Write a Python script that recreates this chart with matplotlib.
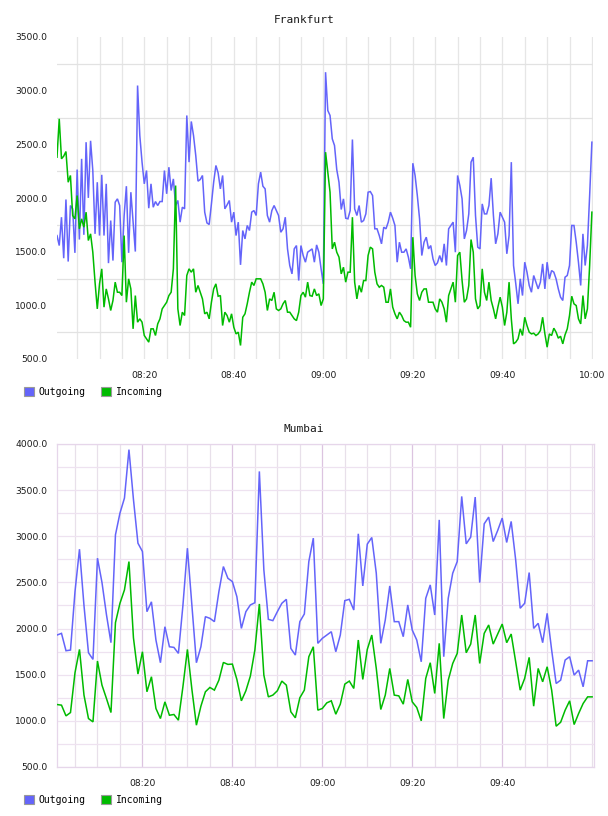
import numpy as np
import pandas as pd
import matplotlib
matplotlib.use("Agg")
import matplotlib.pyplot as plt
import matplotlib.dates as mdates
from matplotlib.patches import Patch

# ---------------- data ----------------
fra_start = "2020-01-01 08:00:30"   # 30 s samples
fra_outgoing = [
    1650,1557,1821,1439,1986,1408,1930,1899,1489,2265,1613,2365,1657,2520,2001,2533,2256,1666,2147,1650,
    2216,1650,2132,1393,1790,1417,1961,1992,1930,1402,1837,2110,1489,2054,1775,1501,3048,2582,2334,2132,
    2256,1905,2132,1914,1967,1930,1967,1967,2256,2039,2287,2070,2178,1930,1977,1775,1914,1899,2769,2334,
    2713,2582,2396,2157,2172,2210,1868,1768,1753,1945,2147,2303,2234,2085,2210,1899,1936,1977,1775,1868,
    1650,1775,1377,1697,1619,1744,1697,1868,1883,1837,2132,2241,2110,2085,1837,1775,1883,1930,1883,1837,
    1681,1713,1821,1526,1371,1293,1526,1557,1231,1557,1464,1402,1495,1511,1526,1402,1563,1495,1340,1200,
    3172,2815,2769,2551,2489,2265,2147,1893,1992,1812,1806,1883,2545,1899,1837,1930,1775,1790,1852,2054,
    2060,2023,1713,1713,1650,1573,1728,1713,1775,1868,1812,1744,1402,1588,1495,1495,1526,1449,1340,2324,
    2210,2023,1806,1464,1588,1635,1526,1557,1433,1371,1396,1464,1402,1573,1371,1713,1744,1775,1495,2210,
    2116,1992,1619,1697,1852,2334,2380,1837,1542,1526,1945,1852,1852,1930,2185,1837,1573,1666,1868,1821,
    1775,1480,1650,2334,1371,1200,1014,1247,1091,1402,1309,1185,1122,1278,1216,1153,1216,1386,1153,1402,
    1247,1324,1309,1247,1153,1076,1045,1262,1278,1371,1744,1744,1588,1402,1185,1666,1371,1557,2023,2520,
]
fra_incoming = [
    2380,2738,2365,2390,2433,2147,2210,1837,1806,2023,1713,1806,1728,1868,1604,1666,1495,1216,967,1200,
    1340,983,1153,1060,952,1045,1216,1122,1122,1091,1650,1029,1247,1153,781,1091,843,874,843,719,
    688,657,781,781,719,827,874,967,998,1029,1091,1122,1340,2116,967,812,936,905,1278,1340,
    1309,1340,1122,1185,1122,1060,921,936,874,1029,1153,1200,1085,1091,812,936,905,843,921,796,
    734,750,626,889,921,1014,1122,1216,1185,1247,1247,1247,1200,1122,952,1060,1045,1122,967,952,
    967,1014,1045,936,936,905,874,858,936,1091,1122,1076,1216,1091,1085,1153,1091,1107,998,1060,
    2427,2241,2054,1526,1588,1495,1449,1293,1355,1216,1309,1309,1821,1216,1060,1185,1122,1231,1231,1464,
    1542,1526,1309,1200,1169,1185,1169,1029,1029,1153,983,921,874,936,905,858,843,843,796,1635,
    1278,1107,1045,1122,1153,1153,1029,1029,1029,967,936,1060,1029,967,843,1091,1153,1216,1029,1464,
    1495,1231,1029,1060,1185,1613,1495,1060,967,998,1340,1122,1045,1216,1045,967,874,983,1076,983,
    812,936,1216,874,641,657,688,781,719,889,812,750,734,740,719,734,765,889,734,610,
    734,719,787,750,694,712,641,725,781,905,1085,1014,998,874,827,1091,874,967,1371,1868,
]

mum_start = "2020-01-01 08:01:00"   # 1 min samples
mum_outgoing = [
    1930,1948,1760,1767,2400,2860,2250,1738,1666,2763,2500,2150,1847,3016,3251,3414,3939,3400,2925,2835,
    2183,2290,1876,1630,2020,1803,1796,1731,2250,2871,2250,1630,1803,2129,2111,2075,2400,2672,2545,2509,
    2346,2002,2183,2256,2280,3703,2636,2100,2086,2183,2274,2317,1785,1713,2075,2158,2726,2980,1840,1894,
    1930,1966,1749,1930,2303,2317,2201,3027,2462,2915,2987,2600,1840,2093,2462,2075,2075,1912,2256,1984,
    1876,1640,2328,2473,2147,3178,1695,2328,2600,2726,3432,2918,2991,3425,2498,3135,3208,2943,3063,3197,
    2933,3161,2744,2220,2274,2607,2002,2057,1847,2165,1767,1405,1441,1659,1695,1496,1550,1369,1651,1651,
]
mum_incoming = [
    1177,1170,1054,1090,1521,1774,1279,1025,989,1648,1387,1242,1090,2064,2274,2419,2726,1900,1507,1749,
    1315,1478,1134,1025,1206,1061,1069,1007,1369,1774,1340,953,1159,1315,1362,1333,1441,1633,1612,1615,
    1449,1217,1326,1485,1767,2267,1496,1260,1279,1326,1431,1387,1098,1033,1250,1333,1695,1803,1116,1134,
    1195,1217,1072,1181,1398,1431,1351,1876,1449,1774,1930,1568,1123,1279,1568,1279,1271,1181,1449,1206,
    1145,1000,1460,1630,1297,1840,1025,1441,1622,1731,2147,1738,1832,2147,1622,1948,2039,1832,1941,2049,
    1847,1941,1640,1333,1460,1688,1159,1568,1423,1586,1333,942,985,1116,1217,960,1080,1188,1260,1260,
]

series_names = ["Outgoing", "Incoming"]
titles = ["Frankfurt", "Mumbai"]
fra_yticks = [500, 1000, 1500, 2000, 2500, 3000, 3500]
mum_yticks = [500, 1000, 1500, 2000, 2500, 3000, 3500, 4000]

# ---------------- style ----------------
BLUE = "#6464fa"
GREEN = "#00bb00"
MONO = "DejaVu Sans Mono"
SANS = "DejaVu Sans"
TXT = "#1a1a1a"

fra_t = pd.date_range(fra_start, periods=len(fra_outgoing), freq="30s")
mum_t = pd.date_range(mum_start, periods=len(mum_outgoing), freq="60s")

fig = plt.figure(figsize=(6.08, 8.16), dpi=100)
W, H = 608.0, 816.0

def fx(px):
    return px / W

def fy(py):
    return 1 - py / H

ax1 = fig.add_axes([fx(57), fy(359), fx(593) - fx(57), fy(37) - fy(359)])
ax2 = fig.add_axes([fx(57), fy(767), fx(594) - fx(57), fy(444) - fy(767)])

for ax, t, out, inc in [(ax1, fra_t, fra_outgoing, fra_incoming),
                        (ax2, mum_t, mum_outgoing, mum_incoming)]:
    ax.plot(t, out, color=BLUE, lw=1.1, zorder=3, solid_joinstyle="miter")
    ax.plot(t, inc, color=GREEN, lw=1.1, zorder=3, solid_joinstyle="miter")
    ax.set_axisbelow(True)
    ax.xaxis.set_major_formatter(mdates.DateFormatter("%H:%M"))
    ax.tick_params(axis="both", which="both", length=0, colors=TXT, labelsize=6.6)
    ax.tick_params(axis="y", pad=7)
    ax.tick_params(axis="x", pad=9)
    for lab in ax.get_xticklabels() + ax.get_yticklabels():
        lab.set_family(SANS)

# ---- top chart (Frankfurt) ----
ax1.set_ylim(500, 3500)
ax1.set_xlim(pd.Timestamp(fra_start), pd.Timestamp("2020-01-01 10:00:15"))
ax1.set_yticks(fra_yticks)
ax1.set_yticklabels([f"{v:.1f}" for v in fra_yticks])
ax1.set_yticks([750, 1250, 1750, 2250, 2750, 3250], minor=True)
ax1.xaxis.set_major_locator(mdates.MinuteLocator(byminute=[0, 20, 40]))
ax1.xaxis.set_minor_locator(mdates.MinuteLocator(byminute=range(0, 60, 5)))
ax1.grid(False)
ax1.yaxis.grid(True, which="minor", color="#e2e2e2", lw=0.9)
ax1.xaxis.grid(True, which="both", color="#e6e6e6", lw=0.9)
for s in ax1.spines.values():
    s.set_visible(False)

# ---- bottom chart (Mumbai) ----
ax2.set_ylim(500, 4000)
ax2.set_xlim(pd.Timestamp(mum_start), pd.Timestamp("2020-01-01 10:00:25"))
ax2.set_yticks(mum_yticks)
ax2.set_yticklabels([f"{v:.1f}" for v in mum_yticks])
ax2.set_yticks([750, 1250, 1750, 2250, 2750, 3250, 3750], minor=True)
ax2.set_xticks(pd.to_datetime(["2020-01-01 08:20", "2020-01-01 08:40", "2020-01-01 09:00",
                               "2020-01-01 09:20", "2020-01-01 09:40"]))
ax2.xaxis.set_major_formatter(mdates.DateFormatter("%H:%M"))
ax2.xaxis.set_minor_locator(mdates.MinuteLocator(byminute=range(0, 60, 5)))
ax2.yaxis.grid(True, which="both", color="#eee2f0", lw=0.9)
ax2.xaxis.grid(True, which="major", color="#dcc4e0", lw=0.9)
ax2.xaxis.grid(True, which="minor", color="#e8e0ea", lw=0.9)
for s in ax2.spines.values():
    s.set_color("#e6d6ea")
    s.set_linewidth(0.9)

# titles
fig.text(0.5, fy(20), titles[0], ha="center", va="center", family=MONO, fontsize=8, color=TXT)
fig.text(0.5, fy(429), titles[1], ha="center", va="center", family=MONO, fontsize=8, color=TXT)

# legends
handles = [Patch(facecolor=BLUE, edgecolor="#999999", lw=0.8),
           Patch(facecolor=GREEN, edgecolor="#999999", lw=0.8)]
for yc in (392, 800):
    fig.legend(handles, series_names, loc="center left", bbox_to_anchor=(fx(24), fy(yc)),
               ncol=2, frameon=False, borderpad=0, borderaxespad=0,
               handlelength=1.0, handleheight=1.0, handletextpad=0.5, columnspacing=1.6,
               prop={"family": MONO, "size": 7})

fig.savefig("out.png", dpi=100, facecolor="white")
